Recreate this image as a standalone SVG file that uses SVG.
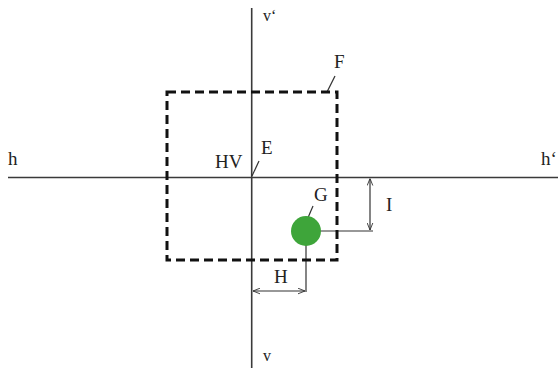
<svg xmlns="http://www.w3.org/2000/svg" width="559" height="371" viewBox="0 0 559 371">
<defs>
<style>
.axis{stroke:#3a3a3a;stroke-width:1.6;fill:none}
.thin{stroke:#333;stroke-width:1.2;fill:none}
.dash{stroke:#111;stroke-width:3;fill:none;stroke-dasharray:9 5}
.lbl{font-family:"Liberation Serif","Times New Roman",serif;font-size:19px;fill:#222}
</style>
<marker id="arr" viewBox="0 0 10 10" refX="10" refY="5" markerWidth="7" markerHeight="7" orient="auto-start-reverse" markerUnits="userSpaceOnUse">
<path d="M0,1 L10,5 L0,9" fill="none" stroke="#333" stroke-width="1.3"/>
</marker>
</defs>
<rect width="559" height="371" fill="#fff"/>
<g id="connectors">
<line class="axis" x1="8" y1="177.5" x2="558" y2="177.5"/>
<line class="axis" x1="251.7" y1="8" x2="251.7" y2="368"/>
<line class="thin" x1="306" y1="231" x2="373" y2="231"/>
<line class="thin" x1="306" y1="231" x2="306" y2="292"/>
<line class="thin" x1="370" y1="178.5" x2="370" y2="230" marker-start="url(#arr)" marker-end="url(#arr)"/>
<line class="thin" x1="253" y1="291" x2="305" y2="291" marker-start="url(#arr)" marker-end="url(#arr)"/>
<line class="thin" x1="252" y1="176" x2="259" y2="161"/>
<line class="thin" x1="327" y1="92" x2="335" y2="76"/>
<line class="thin" x1="307" y1="220" x2="313" y2="206"/>
</g>
<g id="F">
<rect class="dash" x="167" y="92" width="170" height="168"/>
<text class="lbl" x="334" y="68">F</text>
</g>
<g id="G">
<circle cx="306" cy="231" r="15" fill="#3ea53a"/>
<text class="lbl" x="314" y="201">G</text>
</g>
<g id="labels">
<text class="lbl" x="8" y="165">h</text>
<text class="lbl" x="541" y="165">h‘</text>
<text class="lbl" x="263" y="21" style="font-size:16px">v‘</text>
<text class="lbl" x="263" y="361" style="font-size:16px">v</text>
<text class="lbl" x="215" y="168">HV</text>
<text class="lbl" x="261" y="154">E</text>
<text class="lbl" x="386" y="211">I</text>
<text class="lbl" x="274" y="283">H</text>
</g>
</svg>
